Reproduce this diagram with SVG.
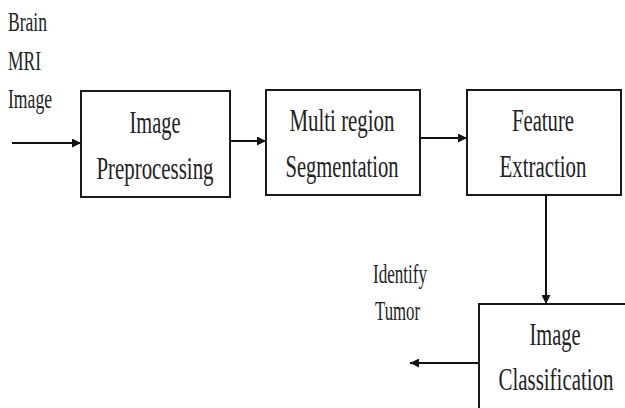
<svg xmlns="http://www.w3.org/2000/svg" width="625" height="408" viewBox="0 0 625 408">
<style>
.box{fill:#fff;stroke:#1a1a1a;stroke-width:2}
.t{font-family:"Liberation Serif","Times New Roman",serif;font-size:31px;fill:#222;text-anchor:middle}
.l{font-family:"Liberation Serif","Times New Roman",serif;font-size:27px;fill:#222}
.c{stroke:#111;stroke-width:2;fill:none;marker-end:url(#ah)}
</style>
<defs>
<marker id="ah" viewBox="0 0 10 10" refX="10" refY="5" markerWidth="10" markerHeight="9" markerUnits="userSpaceOnUse" orient="auto">
<path d="M0,0 L10,5 L0,10 z" fill="#111"/>
</marker>
</defs>
<rect width="625" height="408" fill="#fff"/>
<g id="input-label">
<text class="l" x="8" y="31" textLength="39" lengthAdjust="spacingAndGlyphs">Brain</text>
<text class="l" x="8" y="70" textLength="33" lengthAdjust="spacingAndGlyphs">MRI</text>
<text class="l" x="8" y="108" textLength="44" lengthAdjust="spacingAndGlyphs">Image</text>
</g>
<g id="preprocessing">
<rect class="box" x="81" y="91" width="149" height="106"/>
<text class="t" x="155" y="133" textLength="51" lengthAdjust="spacingAndGlyphs">Image</text>
<text class="t" x="155" y="179" textLength="117" lengthAdjust="spacingAndGlyphs">Preprocessing</text>
</g>
<g id="segmentation">
<rect class="box" x="266" y="90" width="154" height="105"/>
<text class="t" x="342" y="131" textLength="105" lengthAdjust="spacingAndGlyphs">Multi region</text>
<text class="t" x="342" y="177" textLength="113" lengthAdjust="spacingAndGlyphs">Segmentation</text>
</g>
<g id="feature">
<rect class="box" x="467" y="90" width="154" height="105"/>
<text class="t" x="543" y="131" textLength="62" lengthAdjust="spacingAndGlyphs">Feature</text>
<text class="t" x="543" y="177" textLength="87" lengthAdjust="spacingAndGlyphs">Extraction</text>
</g>
<g id="classification">
<rect class="box" x="479" y="304" width="160" height="120"/>
<text class="t" x="555" y="345" textLength="51" lengthAdjust="spacingAndGlyphs">Image</text>
<text class="t" x="556" y="390" textLength="115" lengthAdjust="spacingAndGlyphs">Classification</text>
</g>
<g id="output-label">
<text class="l" x="373" y="283" textLength="54" lengthAdjust="spacingAndGlyphs">Identify</text>
<text class="l" x="375" y="320" textLength="45" lengthAdjust="spacingAndGlyphs">Tumor</text>
</g>
<g id="connectors">
<line class="c" x1="12" y1="143" x2="81" y2="143"/>
<line class="c" x1="230" y1="141" x2="266" y2="141"/>
<line class="c" x1="420" y1="138" x2="467" y2="138"/>
<line class="c" x1="546" y1="195" x2="546" y2="304"/>
<line class="c" x1="479" y1="363" x2="410" y2="363"/>
</g>
</svg>
